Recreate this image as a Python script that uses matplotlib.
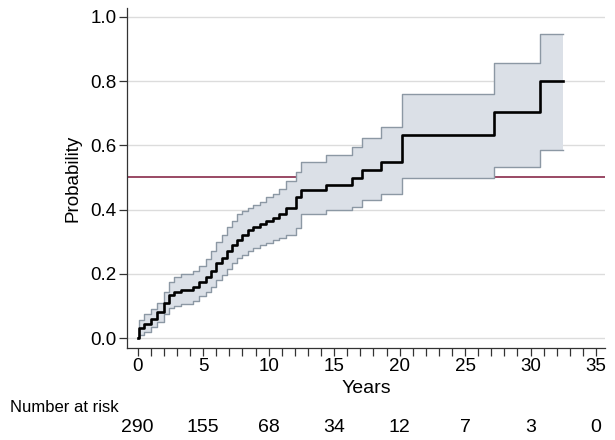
import matplotlib
matplotlib.use("Agg")
import matplotlib.pyplot as plt
import numpy as np

plt.rcParams['font.family'] = ['Liberation Sans', 'DejaVu Sans']

# Kaplan-Meier style cumulative probability (step "post")
times = [0, 0.1, 0.5, 1.0, 1.5, 2.0, 2.4, 2.8, 3.3, 4.2, 4.7, 5.2, 5.6, 6.0, 6.4, 6.8,
         7.2, 7.6, 8.0, 8.4, 8.8, 9.3, 9.8, 10.3, 10.8, 11.3, 12.1, 12.5, 14.4, 16.35,
         17.1, 18.6, 20.2, 27.2, 30.7, 32.5]
estimate = [0.0, 0.03, 0.045, 0.06, 0.08, 0.11, 0.135, 0.145, 0.15, 0.16, 0.175, 0.19,
            0.21, 0.235, 0.25, 0.27, 0.29, 0.305, 0.32, 0.335, 0.345, 0.355, 0.365,
            0.375, 0.385, 0.405, 0.44, 0.462, 0.478, 0.498, 0.522, 0.547, 0.632,
            0.703, 0.80, 0.80]
upper = [0.0, 0.055, 0.075, 0.09, 0.11, 0.145, 0.175, 0.19, 0.20, 0.21, 0.225, 0.245,
         0.27, 0.30, 0.32, 0.345, 0.365, 0.385, 0.395, 0.405, 0.414, 0.425, 0.44,
         0.45, 0.465, 0.49, 0.518, 0.549, 0.57, 0.596, 0.622, 0.658, 0.76, 0.856,
         0.947, 0.947]
lower = [0.0, 0.01, 0.02, 0.035, 0.05, 0.075, 0.095, 0.10, 0.105, 0.115, 0.13, 0.145,
         0.16, 0.18, 0.195, 0.215, 0.235, 0.25, 0.26, 0.272, 0.28, 0.29, 0.297,
         0.305, 0.313, 0.32, 0.342, 0.385, 0.40, 0.409, 0.43, 0.448, 0.497, 0.534,
         0.586, 0.586]

risk_times = [0, 5, 10, 15, 20, 25, 30, 35]
number_at_risk = [290, 155, 68, 34, 12, 7, 3, 0]
reference_level = 0.5

fig = plt.figure(figsize=(6.15, 4.40), dpi=100)
ax = fig.add_axes([0.2065, 0.209, 0.7775, 0.773])

ax.axhline(reference_level, color='#923a58', lw=1.3, zorder=1)
ax.fill_between(times, lower, upper, step='post', facecolor='#dbe0e7',
                edgecolor='none', zorder=2)
ax.step(times, upper, where='post', color='#8c98a4', lw=1.0, zorder=3)
ax.step(times, lower, where='post', color='#8c98a4', lw=1.0, zorder=3)
ax.step(times, estimate, where='post', color='black', lw=1.9, zorder=4)

ax.set_xlim(-0.82, 35.7)
ax.set_ylim(-0.031, 1.028)
ax.set_xticks(np.arange(0, 36, 5))
ax.set_xticks(np.arange(0, 36, 1), minor=True)
ax.set_yticks(np.arange(0, 1.01, 0.2))
ax.set_yticklabels([f"{v:.1f}" for v in np.arange(0, 1.01, 0.2)])
ax.yaxis.grid(True, color='#dcdcdc', lw=1.0, zorder=0)
ax.set_axisbelow(True)
for s in ['top', 'right']:
    ax.spines[s].set_visible(False)
for s in ['left', 'bottom']:
    ax.spines[s].set_color('#333333')
    ax.spines[s].set_linewidth(0.9)
ax.tick_params(axis='both', which='major', direction='out', length=5.5, width=0.9,
               color='#333333', labelsize=13.5, pad=2)
ax.tick_params(axis='x', which='minor', direction='out', length=5.5, width=0.9,
               color='#333333')
ax.set_xlabel('Years', fontsize=14, labelpad=3)
ax.set_ylabel('Probability', fontsize=13.5, labelpad=6)

# Number at risk table
fig.text(10 / 615, 1 - 407 / 440, 'Number at risk', fontsize=12, ha='left', va='center')
for t, n in zip(risk_times, number_at_risk):
    xd = ax.transData.transform((t, 0))[0]
    xf = fig.transFigure.inverted().transform((xd, 0))[0]
    fig.text(xf, 1 - 427 / 440, str(n), fontsize=14, ha='center', va='center')

fig.savefig('out.png', dpi=100)
